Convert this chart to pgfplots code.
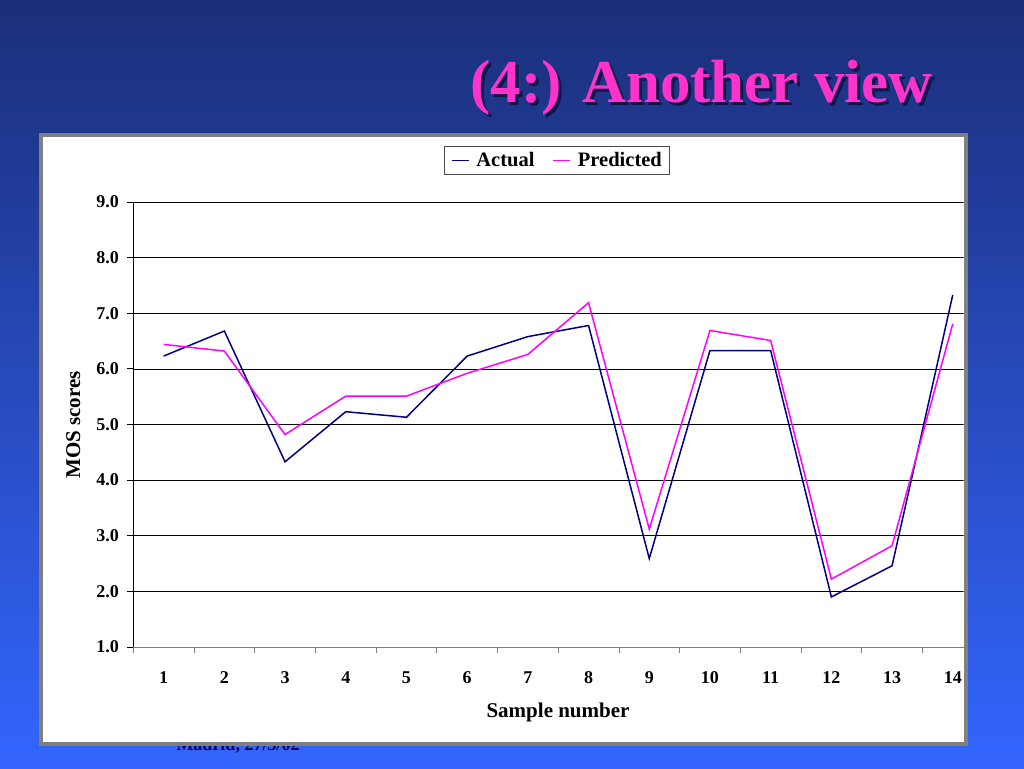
\documentclass[border=0pt]{standalone}
\usepackage{pgfplots}
\pgfplotsset{compat=1.18}
\usepackage{fontspec}
\setmainfont{Liberation Serif}
\definecolor{bgtop}{RGB}{27,46,120}
\definecolor{bgbot}{RGB}{51,102,255}
\definecolor{titlemag}{RGB}{255,51,204}
\definecolor{titleshadow}{RGB}{15,20,70}
\definecolor{navyline}{RGB}{0,0,128}
\definecolor{magline}{RGB}{255,0,255}
\definecolor{panelgray}{RGB}{128,128,128}
\begin{document}
\begin{tikzpicture}[x=1pt,y=1pt]
\shade[top color=bgtop,bottom color=bgbot] (0,0) rectangle (1024,768);
\node[anchor=base,inner sep=0pt,font=\bfseries\fontsize{18}{20}\selectfont,text=navyline!70!black] at (238,18) {Madrid, 27/3/02};
\node[anchor=base east,inner sep=0pt,font=\bfseries\fontsize{61}{64}\selectfont,text=titleshadow] at (936,662) {(4:) Another view};
\node[anchor=base east,inner sep=0pt,font=\bfseries\fontsize{61}{64}\selectfont,text=titlemag] at (933,665) {(4:) Another view};
\fill[white] (40.5,24.5) rectangle (965.5,633);
\draw[panelgray,line width=4] (40.5,24.5) rectangle (965.5,633);
\begin{scope}
\clip (42.5,26.5) rectangle (963.5,631);
\begin{axis}[
  at={(133.3pt,121pt)}, anchor=south west,
  scale only axis, width=849.8pt, height=445pt,
  xmin=0.5, xmax=14.5, ymin=1, ymax=9,
  axis lines*=left,
  x axis line style={panelgray,line width=1pt},
  y axis line style={black,line width=0.8pt},
  xtick={1,...,14},
  major x tick style={draw=none},
  minor xtick={0.5,1.5,...,14.5},
  minor x tick style={panelgray,line width=0.8pt},
  minor tick length=6pt,
  ytick={1,...,9},
  major tick length=6pt,
  tick align=outside,
  y tick style={black,line width=0.8pt},
  ymajorgrids,
  major grid style={black,line width=0.7pt},
  /pgf/number format/assume math mode=true,
  yticklabel={\pgfmathprintnumber[fixed,fixed zerofill,precision=1]{\tick}},
  ticklabel style={font=\bfseries\fontsize{18}{20}\selectfont},
  xticklabel style={anchor=center,yshift=-24.5pt},
  yticklabel style={anchor=east,xshift=-5pt},
  xlabel={Sample number},
  ylabel={MOS scores},
  label style={font=\bfseries\fontsize{21}{23}\selectfont},
  xlabel style={at={(axis description cs:0.4998,-0.146)},anchor=center},
  ylabel style={at={(axis description cs:-0.0706,0.499)},anchor=center},
  legend columns=2,
  legend style={at={(0.499,1.093)},anchor=center,draw=black!70,line width=0.8pt,
    font=\bfseries\fontsize{20.5}{22}\selectfont,inner xsep=6pt,inner ysep=4pt,
    /tikz/every odd column/.append style={column sep=5pt},
    /tikz/every even column/.append style={column sep=16pt}},
  legend image code/.code={\draw[#1] (0pt,0pt) -- (17pt,0pt);},
]
\addplot[navyline,line width=1.5pt] coordinates {
(1,6.23) (2,6.68) (3,4.33) (4,5.23) (5,5.13) (6,6.23) (7,6.58)
(8,6.78) (9,2.59) (10,6.33) (11,6.33) (12,1.90) (13,2.46) (14,7.33)};
\addlegendentry{Actual}
\addplot[magline,line width=1.5pt] coordinates {
(1,6.44) (2,6.32) (3,4.82) (4,5.51) (5,5.51) (6,5.92) (7,6.26)
(8,7.19) (9,3.12) (10,6.69) (11,6.51) (12,2.22) (13,2.82) (14,6.81)};
\addlegendentry{Predicted}
\end{axis}
\end{scope}
\end{tikzpicture}
\end{document}
